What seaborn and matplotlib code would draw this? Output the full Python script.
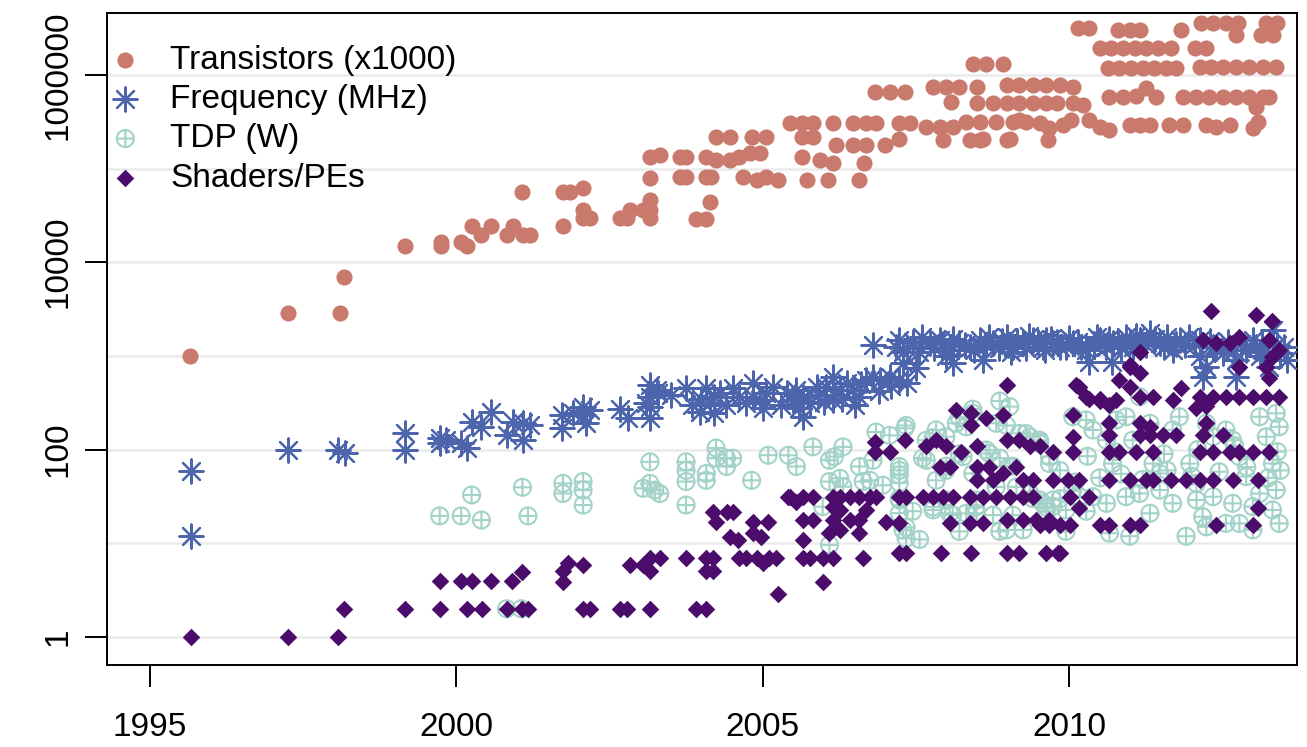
import numpy as np
import pandas as pd
import seaborn as sns
import matplotlib.pyplot as plt
from matplotlib.path import Path
from matplotlib.ticker import NullFormatter

# Transistors (x1000)
trans_year = [
    1995.65, 1997.25, 1998.10, 1998.16, 1999.17, 1999.75, 1999.75, 2000.08, 2000.17, 2000.25,
    2000.41, 2000.57, 2000.82, 2000.93, 2001.08, 2001.09, 2001.20, 2001.74, 2001.74, 2001.85,
    2002.07, 2002.07, 2002.07, 2002.18, 2002.67, 2002.78, 2002.83, 2003.04, 2003.16, 2003.16,
    2003.16, 2003.16, 2003.16, 2003.32, 2003.65, 2003.65, 2003.75, 2003.75, 2003.92, 2004.08,
    2004.08, 2004.08, 2004.14, 2004.16, 2004.24, 2004.24, 2004.46, 2004.46, 2004.62, 2004.68,
    2004.79, 2004.82, 2004.90, 2004.95, 2005.06, 2005.06, 2005.25, 2005.44, 2005.65, 2005.65,
    2005.65, 2005.73, 2005.82, 2005.82, 2005.93, 2006.06, 2006.14, 2006.14, 2006.20, 2006.47,
    2006.47, 2006.58, 2006.66, 2006.69, 2006.69, 2006.83, 2006.85, 2006.99, 2007.07, 2007.23,
    2007.23, 2007.32, 2007.40, 2007.67, 2007.78, 2007.89, 2007.94, 2008.00, 2008.08, 2008.10,
    2008.21, 2008.32, 2008.38, 2008.43, 2008.49, 2008.49, 2008.54, 2008.54, 2008.59, 2008.65,
    2008.76, 2008.81, 2008.92, 2008.98, 2008.98, 2008.98, 2009.03, 2009.08, 2009.19, 2009.19,
    2009.19, 2009.30, 2009.41, 2009.41, 2009.52, 2009.63, 2009.63, 2009.65, 2009.68, 2009.80,
    2009.85, 2009.90, 2010.03, 2010.06, 2010.06, 2010.22, 2010.33, 2010.50, 2010.66, 2010.99,
    2011.15, 2011.32, 2011.63, 2011.86, 2012.24, 2012.40, 2012.62, 2013.00, 2013.08,
    2010.66, 2010.88, 2011.09, 2011.42, 2011.86, 2012.07, 2012.29, 2012.51, 2012.73, 2012.94,
    2013.16, 2013.27, 2011.26, 2013.05,
    2010.63, 2010.82, 2011.01, 2011.20, 2011.39, 2011.58, 2011.75,
    2012.13, 2012.32, 2012.51, 2012.73, 2012.94, 2013.16, 2013.38,
    2010.50, 2010.69, 2010.88, 2011.07, 2011.26, 2011.45, 2011.67, 2012.05, 2012.24,
    2010.14, 2010.33, 2010.80, 2010.99, 2011.15, 2011.83,
    2012.16, 2012.35, 2012.56, 2012.75, 2013.22, 2013.40, 2012.73, 2013.14, 2013.33,
]
trans_val = [
    1000, 2900, 2900, 6900, 14900, 16500, 14900, 16500, 14900, 24300,
    19500, 24300, 19500, 24300, 56600, 19500, 19500, 24300, 56600, 56600,
    61500, 36000, 29600, 29600, 29600, 29600, 36000, 36000, 46000, 36000,
    29600, 79300, 134000, 139000, 134000, 81800, 134000, 81800, 28700, 28700,
    134000, 81800, 44200, 81800, 123000, 218000, 218000, 123000, 134000, 81800,
    146000, 218000, 75300, 146000, 81800, 218000, 75300, 303000, 303000, 218000,
    134000, 75300, 303000, 218000, 123000, 75300, 114000, 303000, 178000, 303000,
    178000, 75300, 114000, 303000, 178000, 660000, 303000, 178000, 660000, 303000,
    209000, 660000, 303000, 279000, 746000, 279000, 201000, 746000, 517000, 279000,
    746000, 316000, 201000, 1320000, 746000, 497000, 316000, 201000, 209000, 1320000,
    497000, 316000, 1320000, 497000, 770000, 201000, 209000, 316000, 497000, 770000,
    331000, 316000, 497000, 770000, 303000, 497000, 770000, 201000, 268000, 500000,
    770000, 291000, 331000, 500000, 746000, 480000, 331000, 279000, 257000, 291000,
    291000, 291000, 291000, 291000, 291000, 279000, 291000, 268000, 316000,
    584000, 584000, 600000, 584000, 584000, 584000, 584000, 584000, 584000, 584000,
    584000, 584000, 720000, 457000,
    1170000, 1170000, 1170000, 1170000, 1170000, 1170000, 1170000,
    1200000, 1200000, 1200000, 1200000, 1200000, 1200000, 1200000,
    1920000, 1920000, 1920000, 1920000, 1920000, 1920000, 1920000, 1920000, 1920000,
    3130000, 3130000, 3000000, 3000000, 3000000, 3000000,
    3540000, 3540000, 3540000, 3540000, 3540000, 3540000, 2660000, 2660000, 2660000,
]

# Frequency (MHz)
freq_year = [
    1995.67, 1995.67, 1997.25, 1998.07, 1998.18, 1999.17, 1999.17, 1999.73, 1999.73, 1999.84,
    2000.08, 2000.17, 2000.25, 2000.41, 2000.57, 2000.82, 2000.93, 2001.09, 2001.09, 2001.20,
    2001.72, 2001.72, 2001.90, 2002.07, 2002.07, 2002.18, 2002.12, 2002.67, 2002.80, 2003.16,
    2003.16, 2003.16, 2003.16, 2003.27, 2003.10, 2003.75, 2004.08, 2003.97, 2004.14, 2004.20,
    2004.20, 2004.51, 2004.62, 2004.84, 2004.84, 2004.73, 2004.95, 2005.06, 2005.17, 2005.39,
    2005.50, 2005.66, 2005.66, 2005.55, 2005.77, 2005.88, 2006.04, 2006.15, 2006.15, 2006.26,
    2006.37, 2006.47, 2006.58, 2006.69, 2006.80, 2006.91, 2007.07, 2007.23,
    2003.30, 2003.50, 2003.85, 2004.00, 2004.30, 2004.40, 2005.00, 2005.30, 2005.60, 2005.90,
    2006.00, 2006.30, 2006.50, 2006.60, 2006.90, 2007.10, 2007.35,
    2006.80, 2007.23, 2007.29, 2007.29, 2007.18, 2007.73, 2007.89, 2008.05, 2008.11, 2008.21,
    2008.38, 2008.54, 2008.59, 2008.76, 2008.98, 2009.08, 2009.25, 2009.41, 2009.57, 2009.74,
    2009.63, 2009.85, 2010.06, 2010.28, 2010.33, 2010.50, 2010.72, 2010.93, 2011.15, 2011.32,
    2011.48, 2011.70, 2011.81,
    2007.35, 2007.45, 2007.50, 2007.55, 2007.60, 2007.80, 2007.95, 2008.00, 2008.10, 2008.30,
    2008.45, 2008.65, 2008.70, 2008.85, 2008.90, 2009.00, 2009.05, 2009.15, 2009.30, 2009.35,
    2009.50, 2009.60, 2009.70, 2009.80, 2009.95, 2010.00, 2010.15, 2010.20, 2010.40, 2010.45,
    2010.60, 2010.65, 2010.70, 2010.80, 2010.85, 2011.00, 2011.05, 2011.10, 2011.25, 2011.40,
    2011.55, 2011.60, 2011.75, 2011.90, 2011.95, 2012.05, 2012.30, 2012.40, 2012.60, 2012.70,
    2012.80, 2013.05, 2013.15, 2013.20, 2013.40, 2013.50,
    2012.13, 2012.13, 2012.18, 2012.24, 2012.35, 2012.51, 2012.73, 2012.73, 2012.89, 2013.00,
    2013.11, 2013.27, 2013.33, 2013.44, 2013.55,
]
freq_val = [
    59, 12, 100, 100, 91, 149, 100, 132, 117, 126,
    117, 103, 198, 175, 254, 143, 198, 190, 126, 183,
    233, 169, 243, 286, 233, 265, 191, 273, 215, 490,
    366, 286, 215, 433, 313, 451, 451, 254, 313, 243,
    366, 451, 366, 510, 366, 313, 339, 399, 469, 399,
    339, 366, 223, 433, 313, 469, 469, 596, 339, 433,
    510, 433, 366, 553, 596, 553, 596, 553,
    400, 380, 300, 350, 400, 300, 280, 300, 280, 380,
    320, 350, 300, 500, 420, 480, 520,
    1306, 1480, 1090, 841, 1260, 1360, 1480, 1170, 841, 1360,
    1260, 1480, 907, 1360, 1590, 1260, 1360, 1480, 1260, 1360,
    1480, 1260, 1360, 1170, 870, 1480, 1360, 1590, 1480, 1750,
    1360, 1170, 1480,
    1200, 1400, 740, 1100, 1600, 1200, 1350, 1000, 1500, 1300,
    1150, 1300, 1600, 1200, 1450, 1300, 1100, 1450, 1200, 1650,
    1400, 1150, 1500, 1400, 1250, 1550, 1400, 1250, 1350, 1600,
    1250, 1500, 870, 1400, 1200, 1400, 1250, 1650, 1300, 1500,
    1250, 1600, 1350, 1300, 1600, 1350, 1450, 1250, 1400, 1150,
    1350, 1250, 1350, 1100, 1300, 1250,
    1480, 990, 600, 760, 1260, 1070, 907, 600, 1170, 1480,
    990, 760, 1870, 1070, 907,
]

# TDP (W)
tdp_year = [
    1999.73, 2000.08, 2000.25, 2000.41, 2001.08, 2001.17, 2000.82, 2001.06, 2001.74, 2001.74,
    2002.07, 2002.07, 2002.07, 2003.16, 2003.16, 2003.05, 2003.24, 2003.32, 2003.75, 2003.75,
    2003.75, 2003.75, 2004.08, 2004.08, 2004.24, 2004.24, 2004.41, 2004.51, 2004.41, 2004.82,
    2005.09, 2005.42, 2005.55, 2005.82, 2006.09, 2006.17, 2006.31, 2006.58, 2006.80, 2006.85,
    2007.07, 2007.32, 2006.09, 2006.26, 2006.31, 2006.64, 2006.75, 2006.96, 2007.23, 2007.23,
    2007.23, 2007.23, 2007.23, 2007.29, 2007.34, 2006.09, 2005.98,
    2007.67, 2007.83, 2007.99, 2008.16, 2008.32, 2008.43, 2008.70, 2008.81, 2009.03, 2009.19,
    2009.36, 2009.52, 2009.68,
    2007.67, 2007.83, 2007.99, 2008.27, 2008.43, 2008.49, 2008.81, 2009.03, 2009.14, 2009.36,
    2009.57, 2009.74, 2007.78, 2008.05, 2008.49, 2008.98, 2009.25, 2007.99, 2008.32,
    2007.34, 2007.78, 2008.21, 2008.43, 2008.87, 2008.98, 2009.30, 2009.52, 2007.23, 2007.61,
    2008.00, 2008.21, 2008.65, 2008.87, 2009.08, 2007.23, 2007.45, 2007.78, 2008.10, 2008.48,
    2008.76, 2008.87, 2009.08, 2009.41, 2009.63, 2009.85, 2010.06, 2010.28, 2007.34, 2007.56,
    2008.21, 2009.63, 2009.95,
    2009.52, 2009.68, 2009.85, 2010.06, 2010.28, 2010.39, 2010.61, 2010.71, 2010.77, 2010.93,
    2011.04, 2011.15, 2011.32, 2011.37, 2011.48, 2011.69, 2011.80, 2011.97, 2012.08, 2012.24,
    2012.35, 2012.56, 2012.67, 2012.78, 2012.89, 2013.11, 2013.22, 2013.32, 2013.38, 2013.43,
    2013.38, 2009.52, 2009.74, 2009.95, 2010.17, 2010.39, 2010.61, 2010.66, 2010.93, 2010.99,
    2011.15, 2011.32, 2011.48, 2011.69, 2011.91, 2012.08, 2012.18, 2012.24, 2012.35, 2012.56,
    2012.67, 2012.78, 2013.00, 2013.11, 2013.32, 2013.43, 2013.00,
    2010.10, 2010.50, 2010.85, 2011.20, 2011.60, 2012.00, 2012.45, 2012.90, 2013.25, 2013.45,
    2010.30, 2010.75, 2011.55, 2012.10, 2012.70, 2013.40,
]
tdp_val = [
    19.6, 19.6, 32.8, 17.7, 39.6, 19.6, 2.0, 2.0, 43.6, 34,
    45.6, 36.9, 25.6, 74, 43.6, 38.6, 36.9, 34, 74, 60,
    45.6, 25.6, 55.6, 47, 104, 81, 81, 81, 66, 47,
    87, 87, 66, 107, 77, 84, 107, 66, 77, 154,
    142, 169, 45.6, 49.4, 40.2, 45.6, 47, 41.7, 66, 53.6,
    44.2, 29, 21, 13.9, 11.3, 9.6, 24.6,
    126, 162, 137, 191, 175, 244, 91, 191, 288, 149,
    137, 116, 84,
    77, 47, 60, 84, 55.6, 29, 40, 66, 40, 34,
    26.7, 29, 22.7, 20.9, 20.9, 13.9, 13.9, 29, 20.9,
    181, 134, 221, 270, 330, 181, 148, 121, 60, 81,
    66.5, 90, 99, 81, 66.5, 30, 22, 24.4, 20, 24.4,
    20, 13.4, 20, 30, 22, 30, 36.5, 22, 14.8, 11,
    13.4, 24.4, 13.4,
    126, 71, 60, 224, 207, 162, 126, 71, 207, 224,
    126, 367, 191, 71, 55.6, 162, 224, 71, 43.6, 191,
    137, 162, 126, 84, 51.5, 224, 137, 71, 244, 175,
    37, 29, 24.6, 22.7, 31.4, 31.4, 26.7, 12.8, 31.4, 11.9,
    34, 20.9, 37, 26.7, 11.9, 29, 19.2, 15, 31.4, 16.3,
    26.7, 16.3, 24.6, 34, 22.7, 16.3, 13.9,
    45, 50, 55, 48, 60, 52, 58, 65, 50, 60,
    85, 95, 90, 100, 110, 95,
]

# Shaders/PEs
shader_year = [
    1995.67, 1997.25, 1998.07,
    1998.17, 1999.17, 1999.74, 2000.17, 2000.42, 2000.83, 2001.08, 2001.17, 2002.07, 2002.18,
    2002.67, 2002.78, 2003.16, 2003.92, 2004.08,
    1999.74, 2000.07, 2000.25, 2000.57, 2000.91, 2001.08,
    2001.82, 2001.74, 2001.74, 2002.07, 2002.83, 2003.05, 2003.16, 2003.16, 2003.32, 2003.75,
    2004.08, 2004.19, 2004.08, 2004.19, 2004.19, 2004.24, 2004.41, 2004.52, 2004.46, 2004.60,
    2004.84, 2004.84, 2004.97, 2005.09, 2005.22, 2005.25, 2004.62, 2004.73, 2004.90, 2005.00,
    2005.11, 2005.41, 2005.55,
    2005.44, 2005.66, 2005.82, 2005.66, 2005.82, 2005.66, 2005.66, 2005.77, 2005.98, 2006.15,
    2005.98, 2006.15, 2006.26, 2006.42, 2006.58, 2006.75, 2006.85, 2006.15, 2006.15, 2006.26,
    2006.42, 2006.58, 2006.69, 2006.26, 2006.58, 2006.09, 2006.64, 2006.83, 2006.83, 2007.07,
    2007.32, 2007.02, 2007.23, 2007.34, 2007.23, 2007.23, 2007.34, 2007.61, 2007.78, 2007.94,
    2008.10, 2007.67, 2007.83, 2008.00, 2007.89, 2008.05, 2008.16, 2008.40, 2008.40, 2008.65,
    2008.24, 2008.49, 2008.49, 2008.49, 2008.38, 2008.59, 2008.81, 2009.03, 2009.25, 2009.41,
    2008.70, 2008.92, 2009.14, 2009.25, 2009.41, 2008.98, 2008.92, 2009.19, 2008.98, 2009.36,
    2009.52, 2008.98, 2009.25, 2009.46, 2009.68, 2008.05, 2008.38, 2008.59, 2007.91, 2008.40,
    2008.98, 2009.19, 2009.63, 2008.76,
    2009.85, 2010.12, 2010.28, 2010.50, 2011.15, 2010.99, 2011.15,
    2009.82, 2009.52, 2009.68, 2009.85, 2010.01, 2010.50, 2010.66, 2010.99, 2011.15, 2012.40,
    2013.00, 2009.74, 2009.98, 2010.17, 2010.66, 2010.99, 2011.26, 2011.37, 2011.67, 2011.91,
    2012.13, 2012.35, 2012.67, 2013.08, 2010.01, 2010.33, 2010.17, 2013.08, 2009.74, 2010.06,
    2010.66, 2010.82, 2011.10, 2011.37, 2012.13, 2012.35, 2012.62, 2012.78, 2013.00, 2013.27,
    2010.06, 2010.66, 2011.15, 2011.32, 2011.53, 2011.75, 2012.18, 2012.51, 2010.06, 2010.66,
    2011.15, 2011.32, 2010.66, 2010.77, 2011.15, 2011.37, 2011.69, 2011.83, 2012.07, 2012.24,
    2010.17, 2010.33, 2010.50, 2010.82, 2010.99, 2010.99, 2012.13, 2012.35, 2012.56, 2012.78,
    2013.00, 2013.22, 2013.43, 2012.24, 2012.32, 2012.18, 2012.40, 2012.62, 2012.78, 2012.78,
    2013.05, 2013.32, 2013.27, 2013.32, 2013.43, 2013.27, 2013.22,
]
shader_val = [
    1, 1, 1,
    2, 2, 2, 2, 2, 2, 2, 2, 2, 2,
    2, 2, 2, 2, 2,
    4, 4, 4, 4, 4, 4.9,
    6.1, 5.0, 3.9, 5.9, 5.9, 5.9, 6.9, 5.0, 6.9, 6.9,
    6.9, 6.9, 5.0, 5.0, 21.6, 17, 21.6, 21.6, 11.7, 10.8,
    17, 12.8, 11.7, 17, 6.9, 2.9, 6.9, 6.9, 6.9, 6.1,
    6.9, 31.4, 27.8,
    31.4, 31.4, 31.4, 17.7, 17.7, 10.8, 6.9, 6.9, 6.9, 6.9,
    3.9, 31.4, 31.4, 31.4, 31.4, 31.4, 31.4, 24.6, 17.7, 22.7,
    17.7, 17.7, 22.7, 13.9, 12.8, 12.8, 6.9, 121, 95, 95,
    126, 17, 31.4, 31.4, 16.3, 7.8, 7.8, 31.4, 31.4, 31.4,
    31.4, 108, 126, 108, 66, 66, 265, 244, 183, 215,
    95, 108, 66, 47, 31.4, 31.4, 31.4, 31.4, 31.4, 31.4,
    66, 55.6, 66, 47, 47, 490, 233, 126, 126, 108,
    108, 17.7, 17.7, 17.7, 17.7, 16.3, 16.3, 16.3, 7.8, 7.8,
    7.8, 7.8, 7.8, 47,
    7.8, 490, 362, 330, 1090, 800, 660,
    7.8, 15.7, 15.7, 15.7, 15.7, 15.7, 15.7, 15.7, 15.7, 15.7,
    15.7, 47, 47, 47, 47, 47, 47, 47, 47, 47,
    47, 47, 47, 47, 31.4, 31.4, 23.6, 23.6, 95, 95,
    95, 95, 95, 95, 95, 95, 95, 95, 95, 95,
    137, 143, 143, 143, 143, 143, 143, 143, 233, 191,
    191, 175, 298, 338, 367, 367, 338, 451, 275, 191,
    467, 350, 350, 553, 467, 770, 367, 367, 367, 367,
    367, 367, 367, 290, 3000, 1480, 1360, 1360, 1600, 770,
    2750, 2350, 1480, 985, 1170, 575, 770,
]

SERIES_LABELS = ["Transistors (x1000)", "Frequency (MHz)", "TDP (W)", "Shaders/PEs"]
SERIES_COLORS = ["#C97A6D", "#4C65AD", "#A3D3C8", "#4B0C6B"]

sns.set_style("white")
plt.rcParams["font.family"] = ["Liberation Sans", "DejaVu Sans"]
plt.rcParams["text.color"] = "black"
plt.rcParams["xtick.color"] = "black"
plt.rcParams["ytick.color"] = "black"

# circle with a plus inside (R pch 10)
circle = Path.unit_circle()
cross = Path([[-1, 0], [1, 0], [0, -1], [0, 1]],
             [Path.MOVETO, Path.LINETO, Path.MOVETO, Path.LINETO])
circle_plus = Path.make_compound_path(circle, cross)

fig = plt.figure(figsize=(13.07, 7.47), dpi=100)
ax = fig.add_axes([107 / 1307, 82 / 747, 1190 / 1307, 652 / 747])

sns.scatterplot(x=trans_year, y=trans_val, ax=ax, marker="o", s=135,
                color=SERIES_COLORS[0], edgecolor=SERIES_COLORS[0], linewidth=0,
                label=SERIES_LABELS[0], zorder=3)
sns.scatterplot(x=freq_year, y=freq_val, ax=ax, marker=(8, 2, 0), s=300,
                color=SERIES_COLORS[1], linewidth=1.6,
                label=SERIES_LABELS[1], zorder=4)
sns.scatterplot(x=tdp_year, y=tdp_val, ax=ax, marker=circle_plus, s=150,
                color=SERIES_COLORS[2], facecolor="none", edgecolor=SERIES_COLORS[2],
                linewidth=1.5, label=SERIES_LABELS[2], zorder=5)
sns.scatterplot(x=shader_year, y=shader_val, ax=ax, marker="D", s=80,
                color=SERIES_COLORS[3], edgecolor=SERIES_COLORS[3], linewidth=0,
                label=SERIES_LABELS[3], zorder=6)

ax.set_yscale("log")
ax.set_xlim(1994.30, 2013.72)
ax.set_ylim(10 ** -0.299, 10 ** 6.66)

ax.set_yticks([1, 100, 1e4, 1e6])
ax.set_yticklabels(["1", "100", "10000", "1000000"])
ax.set_yticks([10, 1000, 1e5], minor=True)
ax.yaxis.set_minor_formatter(NullFormatter())
ax.set_xticks([1995, 2000, 2005, 2010])
ax.set_xticklabels(["1995", "2000", "2005", "2010"])

ax.grid(True, axis="y", which="both", color="#EBEBEB", linewidth=1.8, zorder=0)
ax.set_axisbelow(True)
ax.tick_params(axis="both", which="major", direction="out", length=16, width=1.4,
               color="black", labelcolor="black", labelsize=24, left=True, bottom=True)
ax.tick_params(axis="y", which="major", labelrotation=90, pad=8)
ax.tick_params(axis="x", which="major", pad=18)
ax.tick_params(axis="y", which="minor", length=0, left=False)
for sp in ax.spines.values():
    sp.set_visible(True)
    sp.set_color("black")
    sp.set_linewidth(1.4)
for lbl in ax.get_yticklabels():
    lbl.set_verticalalignment("center")

ax.set_xlabel("")
ax.set_ylabel("")
ax.legend(loc="upper left", bbox_to_anchor=(0, 1 - 30 / 652), frameon=False,
          fontsize=24, handlelength=1.0, handletextpad=0.85, labelspacing=0.25,
          borderaxespad=0.0, borderpad=0.05, scatterpoints=1)

fig.savefig("out.png", dpi=100)
